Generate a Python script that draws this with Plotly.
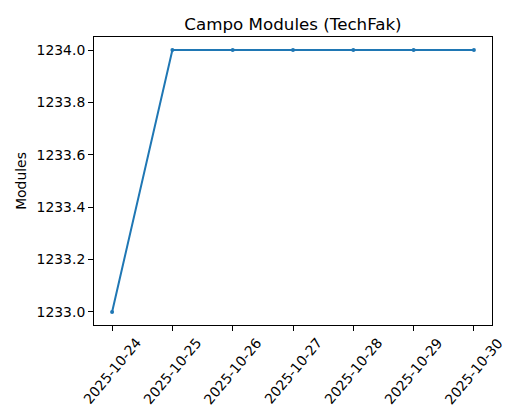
import plotly.graph_objects as go

dates = ["2025-10-24", "2025-10-25", "2025-10-26", "2025-10-27", "2025-10-28", "2025-10-29", "2025-10-30"]
modules = [1233, 1234, 1234, 1234, 1234, 1234, 1234]
y_ticks = [1233.0, 1233.2, 1233.4, 1233.6, 1233.8, 1234.0]

FONT = "DejaVu Sans"
BLUE = "#1f77b4"

fig = go.Figure()
fig.add_trace(go.Scatter(
    x=dates, y=modules, mode="lines+markers",
    line=dict(color=BLUE, width=2),
    marker=dict(color=BLUE, size=4),
    showlegend=False,
))

for d in dates:
    fig.add_annotation(
        x=d, y=0, xref="x", yref="paper", text=d, showarrow=False,
        textangle=-50, xanchor="center", yanchor="top", yshift=-7,
        font=dict(family=FONT, size=13.9, color="black"),
    )

fig.update_layout(
    width=520, height=420,
    margin=dict(l=94, r=28, t=37, b=95, autoexpand=False),
    paper_bgcolor="white", plot_bgcolor="white",
    font=dict(family=FONT, size=13.9, color="black"),
    title=dict(text="Campo Modules (TechFak)", x=0.5, xanchor="center",
               xref="paper", y=1, yref="paper", yanchor="bottom", pad=dict(b=7),
               font=dict(family=FONT, size=16.7, color="black")),
)
fig.update_xaxes(
    type="date", range=["2025-10-23 16:48", "2025-10-30 07:12"],
    tickvals=dates, showticklabels=False,
    ticks="outside", ticklen=5, tickcolor="black", tickwidth=1,
    showline=True, mirror=True, linecolor="black", linewidth=1,
    showgrid=False, zeroline=False,
)
fig.update_yaxes(
    range=[1232.95, 1234.05], tickvals=y_ticks, tickformat=".1f",
    ticks="outside", ticklen=5, tickcolor="black", tickwidth=1,
    showline=True, mirror=True, linecolor="black", linewidth=1,
    showgrid=False, zeroline=False,
    title=dict(text="Modules", standoff=6, font=dict(family=FONT, size=13.9)),
    tickfont=dict(family=FONT, size=13.9),
)

fig.write_html("out.html", config={"displayModeBar": False})
with open("out.html", encoding="utf-8") as f:
    html = f.read()
html = html.replace("<body>", '<body style="margin:0;padding:0">', 1)
with open("out.html", "w", encoding="utf-8") as f:
    f.write(html)
